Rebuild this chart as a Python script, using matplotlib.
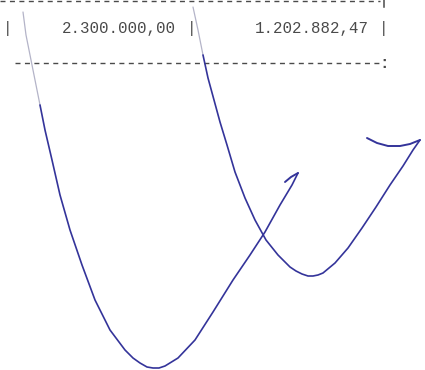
import matplotlib
matplotlib.use("Agg")
import matplotlib.pyplot as plt

# valores da tabela digitada
valores = ["2.300.000,00", "1.202.882,47"]

# traço da assinatura (pixels da imagem: x, y)
traco1_x = [23, 26, 30, 35, 40, 45, 52, 60, 70, 82, 95, 110, 125, 133, 140, 147, 153,
            159, 165, 178, 195, 213, 233, 250, 265, 280, 292, 298]
traco1_y = [12, 35, 55, 80, 105, 130, 160, 195, 230, 265, 300, 330, 350, 358, 363, 367, 368,
            368, 366, 358, 340, 312, 280, 255, 232, 205, 185, 173]
gancho1_x = [285, 291, 298]
gancho1_y = [182, 177, 173]

traco2_x = [193, 198, 203, 208, 214, 220, 227, 235, 245, 255, 266, 278, 290, 296, 302,
            308, 313, 318, 323, 335, 348, 362, 376, 390, 403, 413, 420]
traco2_y = [7, 30, 55, 78, 100, 122, 145, 172, 198, 220, 240, 255, 267, 271, 274,
            276, 276, 275, 273, 263, 248, 228, 207, 185, 166, 150, 140]
topo2_x = [367, 377, 388, 400, 410, 420]
topo2_y = [138, 143, 146, 146, 144, 140]

AZUL = "#34349a"
CLARO = "#b4b4c8"
TINTA = "#4a4a4a"


def main():
    fig = plt.figure(figsize=(4.25, 3.7), dpi=100, facecolor="white")
    ax = fig.add_axes([0, 0, 1, 1])
    ax.set_xlim(0, 425)
    ax.set_ylim(370, 0)
    ax.axis("off")

    mono = dict(family="Liberation Mono", fontsize=11.3, color=TINTA, va="center")
    tracejado = dict(color=TINTA, lw=1.0, linestyle=(0, (3.6, 3.2)))

    # linhas tracejadas da tabela
    ax.plot([0, 380], [1, 1], **tracejado)
    ax.plot([384, 384], [0, 7], color=TINTA, lw=1.1)
    ax.plot([15, 380], [63, 63], **tracejado)
    ax.text(384, 63, ":", ha="center", fontweight="bold", **mono)

    # linha de valores
    ax.text(8, 28, "|", ha="center", **mono)
    ax.text(118.5, 28, valores[0], ha="center", **mono)
    ax.text(192, 28, "|", ha="center", **mono)
    ax.text(311.5, 28, valores[1], ha="center", **mono)
    ax.text(384, 28, "|", ha="center", **mono)

    # assinatura: parte superior mais clara
    n1, n2 = 5, 3
    ax.plot(traco1_x[:n1], traco1_y[:n1], color=CLARO, lw=0.9, solid_capstyle="round")
    ax.plot(traco1_x[n1 - 1:], traco1_y[n1 - 1:], color=AZUL, lw=1.2,
            solid_capstyle="round", solid_joinstyle="round")
    ax.plot(gancho1_x, gancho1_y, color=AZUL, lw=1.4, solid_capstyle="round")

    ax.plot(traco2_x[:n2], traco2_y[:n2], color=CLARO, lw=0.9, solid_capstyle="round")
    ax.plot(traco2_x[n2 - 1:], traco2_y[n2 - 1:], color=AZUL, lw=1.2,
            solid_capstyle="round", solid_joinstyle="round")
    ax.plot(topo2_x, topo2_y, color=AZUL, lw=1.4, solid_capstyle="round")

    fig.savefig("out.png", dpi=100, facecolor="white")


if __name__ == "__main__":
    main()
